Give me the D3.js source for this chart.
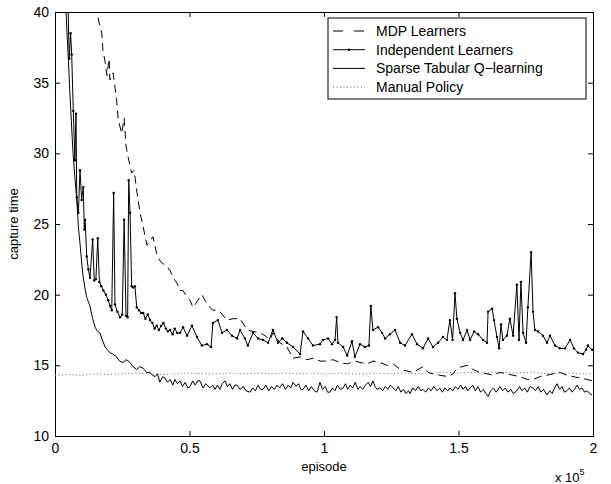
<!DOCTYPE html>
<html>
<head>
<meta charset="utf-8">
<script src="https://cdn.jsdelivr.net/npm/d3@7"></script>
<style>
  body { margin: 0; background: #fff; }
  text { font-family: "Liberation Sans", Arial, Helvetica, sans-serif; }
</style>
</head>
<body>
<div id="chart"></div>
<script>
// episode values are in thousands, y = capture time
const mdpLearners = [[12.0,46],[14.5,42],[15.6,40.0],[16.7,39.0],[17.4,38.5],[17.8,37.3],[18.6,36.5],[19.3,35.5],[20.1,36.7],[20.4,35.2],[21.6,35.7],[22.9,33.8],[23.5,32.4],[24.8,31.4],[25.7,32.5],[26.4,30.5],[27.1,29.8],[28.5,28.6],[29.4,28.8],[30.5,27.2],[31.6,25.8],[33.1,24.5],[34.2,23.5],[35.3,23.8],[36.4,24.1],[37.9,22.8],[39.0,22.4],[40.1,22.2],[41.6,22.0],[42.8,21.7],[43.9,21.2],[45.4,20.8],[46.5,20.3],[47.6,20.3],[49.1,19.8],[50.2,19.6],[51.3,19.1],[52.8,19.5],[54.6,20.0],[56.1,19.5],[57.6,19.1],[58.7,18.9],[60.2,18.9],[61.3,18.8],[63.9,18.2],[66.2,18.3],[68.8,18.3],[71.4,17.5],[73.6,17.4],[76.2,17.3],[78.1,17.1],[79.9,16.8],[81.0,17.3],[83.6,16.6],[86.2,16.3],[88.5,15.5],[91.1,15.6],[93.7,15.4],[95.9,15.5],[98.5,15.3],[101.1,15.3],[103.3,15.4],[105.9,15.2],[108.6,15.1],[111.5,15.3],[113.4,15.2],[116.0,15.1],[118.2,15.3],[120.8,15.2],[123.4,15.0],[125.7,15.1],[128.3,14.7],[130.9,14.6],[133.1,14.5],[134.9,14.7],[136.8,14.9],[138.7,14.5],[140.5,14.4],[143.1,14.3],[146.1,14.2],[148.0,14.4],[149.4,14.8],[151.3,14.9],[153.2,15.0],[155.4,14.7],[158.0,14.5],[160.6,14.4],[162.8,14.3],[165.4,14.5],[168.0,14.4],[170.3,14.3],[172.9,14.2],[175.5,14.0],[177.7,14.0],[180.3,14.2],[182.9,14.3],[185.1,14.4],[187.7,14.5],[190.3,14.3],[192.6,14.2],[195.2,14.1],[197.8,14.0],[200,13.9]];

const independentLearners = [[0.5,52],[1.9,46],[3.7,42],[4.9,40],[5.3,36.7],[5.8,38.5],[6.2,37.0],[6.8,33],[7.4,29.5],[7.8,32.8],[8.1,26.9],[8.7,25.8],[9.3,28.8],[9.9,26.7],[10.5,27.6],[10.9,24.6],[11.2,25.3],[11.8,22.7],[12.4,21.8],[13.0,21.2],[14.0,23.9],[14.6,21.0],[15.2,21.1],[15.9,24.0],[16.5,20.9],[17.2,20.6],[18.0,20.3],[18.9,20.0],[19.8,19.6],[20.5,19.2],[21.1,18.9],[21.8,27.2],[22.3,19.3],[23.2,18.8],[24.2,18.4],[25.0,18.6],[25.7,25.3],[26.4,18.5],[27.0,18.4],[27.4,28.1],[27.9,25.8],[28.5,20.6],[29.1,20.5],[29.7,20.6],[30.4,19.1],[31.2,18.9],[32.0,18.7],[32.8,18.7],[33.6,18.3],[34.5,18.6],[35.3,18.2],[36.2,18.0],[37.0,17.6],[37.8,17.8],[38.6,17.5],[39.5,17.8],[40.3,18.0],[41.2,17.6],[42.0,17.4],[42.8,17.5],[43.7,17.2],[44.5,17.6],[45.4,17.3],[46.5,17.3],[47.6,17.7],[49.1,17.1],[50.9,17.8],[52.8,17.0],[54.6,16.4],[56.5,16.5],[58.0,16.3],[58.7,18.0],[60.6,18.2],[62.1,17.3],[63.9,17.5],[65.8,17.1],[67.7,16.9],[68.8,17.5],[70.6,16.9],[71.7,16.4],[73.6,17.3],[75.5,16.9],[77.3,16.8],[79.2,16.6],[81.0,17.5],[82.9,16.6],[84.5,16.9],[86.2,16.6],[88.5,16.3],[91.1,15.8],[92.2,17.4],[94.1,16.9],[95.9,16.4],[98.5,16.5],[99.6,16.8],[101.5,16.9],[103.0,16.5],[104.1,16.8],[104.7,18.4],[105.2,16.6],[107.1,16.3],[108.6,15.7],[110.4,16.7],[111.5,15.6],[113.4,16.5],[115.2,16.3],[116.7,16.4],[117.4,19.2],[118.2,17.5],[120.1,17.7],[121.6,17.3],[122.7,16.9],[124.5,17.2],[126.4,17.5],[128.3,16.6],[130.1,16.4],[132.7,17.2],[134.6,16.5],[136.8,16.2],[138.7,16.9],[140.5,16.3],[142.4,16.6],[144.2,17.0],[145.7,16.8],[146.8,18.2],[147.8,16.8],[148.7,20.1],[149.4,18.3],[150.6,17.3],[151.7,16.8],[153.2,17.5],[154.3,16.8],[155.8,17.4],[157.3,17.2],[159.1,16.8],[160.6,16.6],[161.0,18.8],[162.5,19.0],[163.2,18.2],[164.3,17.0],[165.1,16.2],[165.8,17.9],[166.5,16.8],[168.0,17.1],[169.1,18.3],[170.3,17.1],[171.7,20.7],[172.5,16.8],[173.2,20.9],[174.0,17.3],[175.1,16.6],[175.8,19.1],[177.0,23.0],[177.7,18.8],[178.4,17.5],[179.6,17.4],[181.4,17.1],[182.9,16.6],[184.0,17.1],[185.9,16.4],[187.7,16.2],[189.6,16.2],[191.5,16.8],[192.9,16.2],[194.4,15.9],[196.3,15.8],[197.4,16.1],[198.1,16.4],[199.6,16.1]];

const sparseQ = [[0.5,52],[2.0,46],[3.0,42.5],[4.1,40],[5.0,36.5],[5.6,34],[6.7,30],[7.4,28.3],[8.1,26.7],[8.7,24.8],[9.3,23.6],[9.9,22.3],[10.5,21.2],[11.2,20.4],[11.8,19.8],[12.4,19.5],[13.0,19.2],[14.0,18.3],[14.9,17.7],[15.8,17.4],[16.7,17.3],[17.6,16.8],[18.6,16.3],[19.5,16.1],[20.4,15.9],[21.5,15.8],[22.9,15.6],[24.0,15.3],[25.3,15.2],[26.5,15.4],[27.9,15.2],[29.0,14.9],[30.4,14.7],[31.5,14.9],[32.7,14.8],[34.0,14.5],[35.3,14.5],[36.2,14.3],[37.2,14.2],[38.1,14.4],[39.0,13.8],[40.0,14.2],[40.9,14.1],[41.8,13.8],[42.8,14.0],[43.8,13.6],[44.6,14.0],[45.5,13.7],[46.5,13.9],[47.4,13.5],[48.4,13.8],[49.3,13.4],[50.2,13.5],[51.2,13.9],[52.1,13.6],[53.0,13.9],[53.9,13.9],[55.0,13.4],[56.0,13.7],[57.6,13.4],[58.6,13.6],[59.5,13.3],[60.4,13.6],[61.3,13.3],[62.2,13.7],[63.2,13.9],[64.1,13.5],[65.0,13.7],[66.0,13.3],[66.9,13.6],[67.7,13.6],[68.8,13.3],[70.0,13.5],[71.0,13.2],[72.5,13.1],[73.5,13.4],[74.5,13.2],[75.5,13.6],[76.4,13.3],[77.3,13.3],[78.4,13.6],[79.5,13.2],[80.5,13.5],[81.5,13.3],[82.5,13.6],[83.5,13.4],[84.6,13.7],[85.7,13.3],[86.7,13.6],[87.6,13.4],[88.5,13.8],[89.6,13.5],[90.5,13.7],[91.4,13.3],[92.2,13.3],[93.3,13.6],[94.3,13.2],[95.3,13.5],[96.4,13.2],[97.4,13.1],[98.5,13.8],[99.4,13.3],[100.5,13.5],[101.3,13.1],[102.2,13.1],[103.1,13.4],[104.1,13.2],[105.0,13.6],[106.0,13.3],[107.1,13.4],[108.0,13.7],[108.8,13.3],[109.7,13.6],[110.7,13.4],[111.6,13.8],[112.6,13.3],[113.4,13.5],[114.4,13.3],[115.4,13.6],[116.4,13.8],[117.3,13.5],[118.2,13.9],[119.0,13.5],[119.7,13.3],[120.8,13.4],[121.8,13.2],[122.8,13.5],[123.7,13.3],[124.7,13.6],[125.7,13.4],[126.7,13.2],[127.6,13.5],[128.6,13.1],[129.5,13.3],[130.5,13.0],[131.4,13.2],[132.0,13.0],[133.0,13.4],[134.0,13.2],[135.0,13.5],[136.0,13.2],[136.8,13.3],[137.8,13.1],[138.8,13.4],[139.8,13.2],[140.8,13.5],[142.0,13.2],[143.0,13.4],[144.0,13.1],[145.0,13.4],[146.0,13.2],[146.8,13.4],[147.8,13.2],[148.8,13.5],[149.8,13.3],[150.8,13.6],[151.7,13.3],[152.6,13.5],[153.5,13.2],[154.3,13.4],[155.3,13.6],[156.3,13.2],[157.2,13.5],[158.2,13.1],[159.2,13.3],[160.2,13.0],[161.0,12.8],[162.0,13.2],[163.0,13.4],[164.0,13.1],[165.4,13.5],[166.4,13.2],[167.4,13.4],[168.4,13.1],[169.4,13.3],[170.4,13.0],[171.7,13.2],[172.7,13.5],[173.6,13.2],[174.6,13.4],[175.6,13.1],[176.6,13.5],[177.7,13.4],[178.6,13.2],[179.6,13.5],[180.6,13.1],[181.6,13.3],[182.9,12.9],[183.9,13.2],[184.8,13.0],[185.7,13.4],[186.6,13.7],[187.6,13.3],[188.5,13.5],[189.4,13.1],[190.3,13.2],[191.2,13.4],[192.2,13.1],[193.1,13.3],[194.1,13.6],[195.0,13.3],[195.9,13.4],[196.9,13.1],[197.8,13.2],[198.8,13.0],[199.6,12.9]];

const manualPolicy = [[0,14.3],[5,14.35],[10,14.3],[15,14.4],[20,14.35],[25,14.4],[30,14.45],[35,14.4],[40,14.35],[45,14.4],[50,14.45],[55,14.4],[60,14.4],[65,14.45],[70,14.4],[75,14.45],[80,14.4],[85,14.45],[90,14.4],[95,14.45],[100,14.4],[105,14.45],[110,14.4],[115,14.4],[120,14.45],[125,14.4],[130,14.45],[135,14.4],[140,14.45],[145,14.5],[150,14.45],[155,14.5],[160,14.45],[165,14.5],[170,14.45],[175,14.5],[180,14.45],[185,14.4],[190,14.45],[195,14.4],[200,14.4]];

const xTicks = [0, 50, 100, 150, 200];
const xTickLabels = ["0", "0.5", "1", "1.5", "2"];
const yTicks = [10, 15, 20, 25, 30, 35, 40];
const legendLabels = ["MDP Learners", "Independent Learners", "Sparse Tabular Q\u2212learning", "Manual Policy"];

const margin = { top: 12, right: 18, bottom: 48, left: 55 };
const width = 611 - margin.left - margin.right;
const height = 484 - margin.top - margin.bottom;

const svg = d3.select("#chart")
  .append("svg")
  .attr("width", 611)
  .attr("height", 484)
  .append("g")
  .attr("transform", `translate(${margin.left},${margin.top})`);

const x = d3.scaleLinear().domain([0, 200]).range([0, width]);
const y = d3.scaleLinear().domain([10, 40]).range([height, 0]);

svg.append("clipPath").attr("id", "clip")
  .append("rect").attr("width", width).attr("height", height);

// axes with inward ticks on all four sides
svg.append("g")
  .attr("transform", `translate(0,${height})`)
  .call(d3.axisBottom(x).tickValues(xTicks).tickSize(-5).tickPadding(7)
    .tickFormat((d, i) => xTickLabels[i]));
svg.append("g")
  .call(d3.axisTop(x).tickValues(xTicks).tickSize(-5).tickFormat(""));
svg.append("g")
  .call(d3.axisLeft(y).tickValues(yTicks).tickSize(-5).tickPadding(6));
svg.append("g")
  .attr("transform", `translate(${width},0)`)
  .call(d3.axisRight(y).tickValues(yTicks).tickSize(-5).tickFormat(""));

svg.selectAll(".domain").attr("stroke", "#000").attr("stroke-width", 1);
svg.selectAll(".tick line").attr("stroke", "#000");
svg.selectAll(".tick text").attr("font-size", 14).attr("fill", "#000")
  .attr("font-family", "Liberation Sans, Arial, sans-serif");

const line = d3.line().x(d => x(d[0])).y(d => y(d[1]));
const plot = svg.append("g").attr("clip-path", "url(#clip)");

plot.append("path").datum(manualPolicy)
  .attr("d", line).attr("fill", "none")
  .attr("stroke", "#666").attr("stroke-width", 1).attr("stroke-dasharray", "1,2.5");

plot.append("path").datum(sparseQ)
  .attr("d", line).attr("fill", "none")
  .attr("stroke", "#000").attr("stroke-width", 1);

plot.append("path").datum(mdpLearners)
  .attr("d", line).attr("fill", "none")
  .attr("stroke", "#000").attr("stroke-width", 1).attr("stroke-dasharray", "8,5");

plot.append("path").datum(independentLearners)
  .attr("d", line).attr("fill", "none")
  .attr("stroke", "#000").attr("stroke-width", 1);

plot.selectAll(".dot")
  .data(independentLearners)
  .enter()
  .append("circle")
  .attr("class", "dot")
  .attr("cx", d => x(d[0]))
  .attr("cy", d => y(d[1]))
  .attr("r", 1.2)
  .attr("fill", "#000");

// axis labels
svg.append("text")
  .attr("x", width / 2).attr("y", height + 35)
  .attr("text-anchor", "middle").attr("font-size", 13)
  .text("episode");

svg.append("text")
  .attr("transform", `translate(${-37},${height / 2}) rotate(-90)`)
  .attr("text-anchor", "middle").attr("font-size", 13)
  .text("capture time");

const expo = svg.append("text")
  .attr("x", width - 38).attr("y", height + 46)
  .attr("font-size", 13);
expo.append("tspan").text("x 10");
expo.append("tspan").attr("dy", -7).attr("font-size", 9).text("5");

// legend
const legend = svg.append("g").attr("transform", "translate(273,6)");
legend.append("rect")
  .attr("width", 258).attr("height", 81)
  .attr("fill", "#fff").attr("stroke", "#000").attr("stroke-width", 1);

const legendStyles = [
  { dash: "10,11", color: "#000", dot: false },
  { dash: null, color: "#000", dot: true },
  { dash: null, color: "#000", dot: false },
  { dash: "1,2.5", color: "#666", dot: false }
];

legendLabels.forEach((label, i) => {
  const ly = 13 + i * 18.7;
  const g = legend.append("g").attr("transform", `translate(0,${ly})`);
  g.append("line")
    .attr("x1", 5).attr("x2", 37).attr("y1", 0).attr("y2", 0)
    .attr("stroke", legendStyles[i].color).attr("stroke-width", 1)
    .attr("stroke-dasharray", legendStyles[i].dash);
  if (legendStyles[i].dot) {
    g.append("circle").attr("cx", 21).attr("cy", 0).attr("r", 1.3).attr("fill", "#000");
  }
  g.append("text")
    .attr("x", 48).attr("y", 5)
    .attr("font-size", 14)
    .text(label);
});
</script>
</body>
</html>
